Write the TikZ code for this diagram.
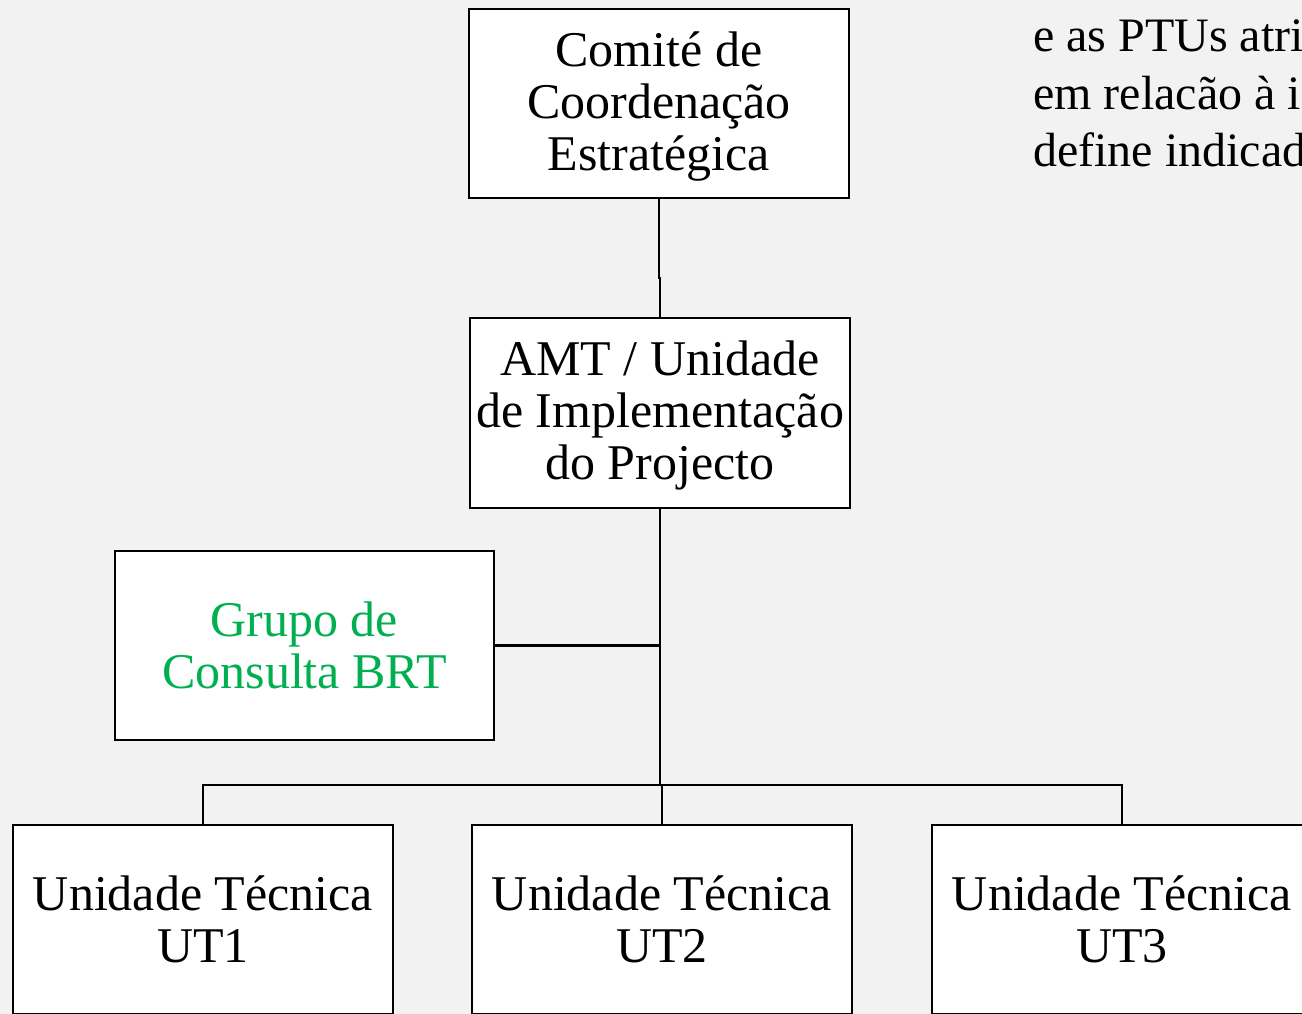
\documentclass[tikz,border=0pt]{standalone}
\usepackage{fontspec}
\setmainfont{Liberation Serif}
\definecolor{bgray}{HTML}{F2F2F2}
\definecolor{grpgreen}{HTML}{00B050}
\begin{document}
\begin{tikzpicture}[x=1pt,y=-1pt,
  box/.style={draw=black, fill=white, line width=2.2pt, minimum width=380pt, minimum height=189pt,
    inner sep=0pt, align=center, font=\fontsize{50}{52}\selectfont},
  tribox/.style={box, text depth=5pt},
  conn/.style={line width=2.2pt},
  thinconn/.style={line width=1.4pt},
  notetext/.style={anchor=base west, inner sep=0pt, font=\fontsize{48}{57}\selectfont}]
\useasboundingbox (0,0) rectangle (1302,1014);
\clip (0,0) rectangle (1302,1014);
\fill[bgray] (0,0) rectangle (1302,1014);

\node[tribox] (com) at (659,103.5) {Comité de\\Coordenação\\Estratégica};
\node[tribox, minimum height=190pt] (amt) at (660,413) {AMT / Unidade\\de Implementação\\do Projecto};
\node[box, minimum width=379pt, text=grpgreen] (grp) at (304.5,645.5) {Grupo de\\Consulta BRT};
\node[box] (ut1) at (203,919.5) {Unidade Técnica\\UT1};
\node[box] (ut2) at (662,919.5) {Unidade Técnica\\UT2};
\node[box] (ut3) at (1122,919.5) {Unidade Técnica\\UT3};

\node[notetext] (note1) at (1033,52) {e as PTUs atri};
\node[notetext] (note2) at (1033,110) {em relacão à i};
\node[notetext] (note3) at (1033,167) {define indicad};

\coordinate (j1) at (659,278);
\coordinate (bus) at (660,785);
\draw[conn] (com.south) -- (j1) -| (amt.north);
\draw[conn] (amt.south) -- (bus);
\draw[conn] (grp.east) -- (amt.south |- grp.east);
\draw[conn] (ut1.north) -- (ut1.north |- bus) -- (ut3.north |- bus) -- (ut3.north);
\draw[thinconn] (ut2.north) -- (ut2.north |- bus);
\end{tikzpicture}
\end{document}
